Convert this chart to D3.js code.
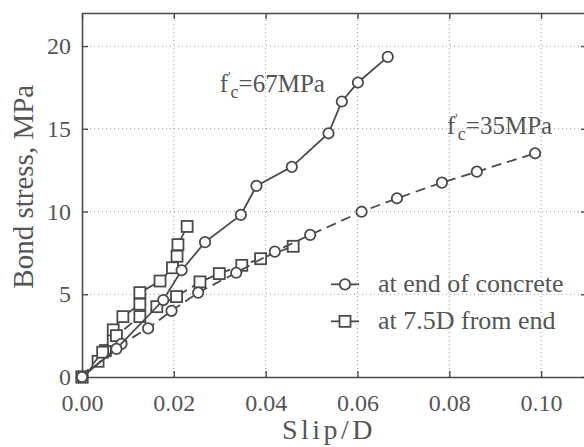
<!DOCTYPE html>
<html><head><meta charset="utf-8">
<script src="https://cdn.jsdelivr.net/npm/d3@7"></script>
<style>
body{margin:0;background:#fff}
text{font-family:"Liberation Serif","Times New Roman",serif;fill:#555}
</style>
</head><body>
<svg id="c" width="584" height="447"></svg>
<script>
// ---- data ----
const xTicks = [0, 0.02, 0.04, 0.06, 0.08, 0.10];
const xTickLabels = ["0.00", "0.02", "0.04", "0.06", "0.08", "0.10"];
const yTicks = [0, 5, 10, 15, 20];
const yTickLabels = ["0", "5", "10", "15", "20"];

// f'c = 67 MPa, at end of concrete (circles, solid)
const slip67End   = [0, 0.0075, 0.0177, 0.0217, 0.0268, 0.0346, 0.0380, 0.0457, 0.0537, 0.0566, 0.0601, 0.0666];
const stress67End = [0, 1.7,    4.65,   6.45,   8.15,   9.8,    11.55,  12.7,   14.73,  16.65,  17.8,   19.35];
// f'c = 67 MPa, at 7.5D from end (squares, solid)
const slip67Bar   = [0, 0.0035, 0.0051, 0.0068, 0.0068, 0.0089, 0.0126, 0.0126, 0.0170, 0.0197, 0.0207, 0.0209, 0.0229];
const stress67Bar = [0, 0.95,   1.6,    2.2,    2.85,   3.65,   4.4,    5.1,    5.8,    6.6,    7.3,    8.0,    9.1];
// f'c = 35 MPa, at end of concrete (circles, dashed)
const slip35End   = [0, 0.0086, 0.0144, 0.0195, 0.0253, 0.0336, 0.0420, 0.0497, 0.0609, 0.0686, 0.0784, 0.0860, 0.0987];
const stress35End = [0, 2.0,    2.94,   4.0,    5.1,    6.3,    7.58,   8.59,   9.99,   10.8,   11.75,  12.41,  13.52];
// f'c = 35 MPa, at 7.5D from end (squares, dashed)
const slip35Bar   = [0, 0.0045, 0.0075, 0.0126, 0.0163, 0.0206, 0.0257, 0.0299, 0.0348, 0.0389, 0.0460];
const stress35Bar = [0, 1.5,    2.5,    3.65,   4.25,   4.86,   5.75,   6.25,   6.75,   7.15,   7.9];

const legendLabels = ["at end of concrete", "at 7.5D from end"];

// ---- drawing ----
const svg = d3.select("#c");
const x = d3.scaleLinear().domain([0, 0.11]).range([82, 587]);
const y = d3.scaleLinear().domain([0, 22]).range([377, 13]);
const ink = "#4a4a4a";
const txt = "#5a5a5a";

// grid
const grid = svg.append("g");
grid.selectAll("line.gx").data(xTicks.slice(1)).join("line")
  .attr("x1", d => x(d)).attr("x2", d => x(d)).attr("y1", y(0)).attr("y2", y(22))
  .attr("stroke", "#999").attr("stroke-width", 1).attr("stroke-dasharray", "1,3");
grid.selectAll("line.gy").data(yTicks.slice(1)).join("line")
  .attr("y1", d => y(d)).attr("y2", d => y(d)).attr("x1", x(0)).attr("x2", x(0.11))
  .attr("stroke", "#999").attr("stroke-width", 1).attr("stroke-dasharray", "1,3");

// axes
function styleAxis(g) {
  g.select(".domain").attr("stroke", ink).attr("stroke-width", 1.6);
  g.selectAll(".tick line").attr("stroke", ink).attr("stroke-width", 1.4);
  g.selectAll(".tick text").attr("fill", txt).style("font-family", '"Liberation Serif",serif').style("font-size", "24px");
}
svg.append("g").attr("transform", `translate(0,${y(0)})`)
  .call(d3.axisBottom(x).tickValues(xTicks).tickFormat((d, i) => xTickLabels[i]).tickSize(-6).tickSizeOuter(0).tickPadding(17))
  .call(styleAxis);
svg.append("g").attr("transform", `translate(${x(0)},0)`)
  .call(d3.axisLeft(y).tickValues(yTicks).tickFormat((d, i) => yTickLabels[i]).tickSize(-6).tickSizeOuter(0).tickPadding(11))
  .call(styleAxis);
svg.append("g").attr("transform", `translate(0,${y(22)})`)
  .call(d3.axisTop(x).tickValues(xTicks).tickFormat("").tickSize(-6).tickSizeOuter(0))
  .call(styleAxis);
svg.append("g").attr("transform", `translate(${x(0.11)},0)`)
  .call(d3.axisRight(y).tickValues(yTicks).tickFormat("").tickSize(-6).tickSizeOuter(0))
  .call(styleAxis);

// series
const series = [
  {xs: slip67Bar, ys: stress67Bar, shape: "square", dash: null},
  {xs: slip35Bar, ys: stress35Bar, shape: "square", dash: "10,6"},
  {xs: slip35End, ys: stress35End, shape: "circle", dash: "10,6"},
  {xs: slip67End, ys: stress67End, shape: "circle", dash: null},
];
const line = d3.line().x(d => x(d[0])).y(d => y(d[1]));
function marker(g, shape, cx, cy) {
  if (shape === "circle") {
    g.append("circle").attr("cx", cx).attr("cy", cy).attr("r", 5.2)
      .attr("fill", "#fff").attr("stroke", ink).attr("stroke-width", 1.8);
  } else {
    g.append("rect").attr("x", cx - 5.5).attr("y", cy - 5.5).attr("width", 11).attr("height", 11)
      .attr("fill", "#fff").attr("stroke", ink).attr("stroke-width", 1.8);
  }
}
series.forEach(s => {
  const pts = d3.zip(s.xs, s.ys);
  const g = svg.append("g");
  g.append("path").attr("d", line(pts)).attr("fill", "none").attr("stroke", ink)
    .attr("stroke-width", 1.8).attr("stroke-dasharray", s.dash);
  pts.forEach(p => marker(g, s.shape, x(p[0]), y(p[1])));
});

// annotations
function fc(px, py, val) {
  const t = svg.append("text").attr("x", px).attr("y", py).style("font-size", "25px").attr("fill", txt);
  t.append("tspan").text("f");
  t.append("tspan").attr("dy", -10).style("font-size", "14px").text("'");
  t.append("tspan").attr("dy", 16).style("font-size", "18px").text("c");
  t.append("tspan").attr("dy", -6).text("=" + val + "MPa");
}
fc(x(0.0300), y(17.2), 67);
fc(x(0.0795), y(14.7), 35);

// legend
const lg = svg.append("g");
legendLabels.forEach((lab, i) => {
  const cy = y(5.6) + i * 37;
  lg.append("line").attr("x1", 331).attr("x2", 359).attr("y1", cy).attr("y2", cy)
    .attr("stroke", ink).attr("stroke-width", 1.8);
  marker(lg, i === 0 ? "circle" : "square", 345, cy);
  lg.append("text").attr("x", 378).attr("y", cy + 8).style("font-size", "26px").attr("fill", txt).text(lab);
});

// axis titles
svg.append("text").attr("x", x(0.0538)).attr("y", 439).attr("text-anchor", "middle").attr("fill", txt)
  .style("font-size", "28px").style("letter-spacing", "3.5px").text("Slip/D");
svg.append("text").attr("transform", `translate(33,${y(11.5)}) rotate(-90)`).attr("text-anchor", "middle").attr("fill", txt)
  .style("font-size", "29px").text("Bond stress,  MPa");
</script>
</body></html>
